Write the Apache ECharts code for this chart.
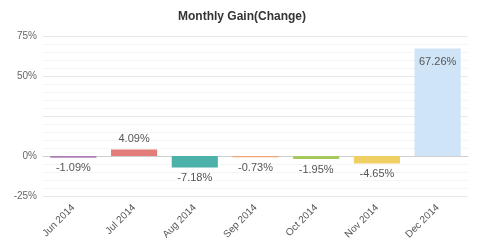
<!DOCTYPE html>
<html><head><meta charset="utf-8">
<script src="https://cdn.jsdelivr.net/npm/echarts@6/dist/echarts.min.js"></script>
<style>html,body{margin:0;padding:0;background:#fff}#c{width:484px;height:243px}</style>
</head><body><div id="c"></div>
<script>
const categories = ['Jun 2014','Jul 2014','Aug 2014','Sep 2014','Oct 2014','Nov 2014','Dec 2014'];
const gains = [-1.09, 4.09, -7.18, -0.73, -1.95, -4.65, 67.26];
const colors = ['#ad7fb5','#e27d79','#4cb2a9','#f2a477','#a6c95c','#f0cf62','#cfe4f6'];
const yTicks = [-25, 0, 50, 75];

const chart = echarts.init(document.getElementById('c'));
chart.setOption({
  animation: false,
  title: { text: 'Monthly Gain(Change)', left: 'center', top: 6,
    textStyle: { fontFamily: 'Arial, Liberation Sans', fontSize: 12, fontWeight: 'bold', color: '#333' } },
  grid: { left: 43, right: 16, top: 36, bottom: 47, containLabel: false, outerBoundsMode: 'none' },
  xAxis: { type: 'category', data: categories,
    axisTick: { show: false },
    axisLine: { onZero: true, lineStyle: { color: '#d0d0d0' } },
    axisLabel: { rotate: 45, fontSize: 10, color: '#555', fontFamily: 'Arial, Liberation Sans', margin: 10 } },
  yAxis: { type: 'value', min: -25, max: 75, interval: 25,
    axisLine: { show: false }, axisTick: { show: false },
    axisLabel: { fontSize: 10, color: '#666', fontFamily: 'Arial, Liberation Sans', margin: 6,
      formatter: v => yTicks.includes(v) ? v + '%' : '' },
    splitLine: { lineStyle: { color: '#e8e8e8' } },
    minorTick: { show: false, splitNumber: 5 },
    minorSplitLine: { show: true, lineStyle: { color: '#f5f5f5' } } },
  series: [{
    type: 'bar', barCategoryGap: '24%',
    data: gains.map((v, i) => ({ value: v, itemStyle: { color: colors[i] },
      label: { position: v > 20 ? 'insideTop' : (v >= 0 ? 'top' : 'bottom'), distance: v > 20 ? 8 : 5 } })),
    label: { show: true, formatter: p => p.value.toFixed(2) + '%', fontSize: 11, color: '#555',
      fontFamily: 'Arial, Liberation Sans' }
  }]
});
</script></body></html>
